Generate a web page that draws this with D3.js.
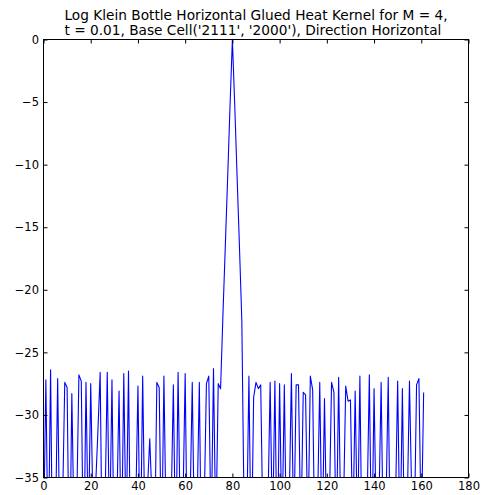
<!DOCTYPE html>
<html lang="en">
<head>
<meta charset="UTF-8">
<title>Log Klein Bottle heat kernel</title>
<script src="https://d3js.org/d3.v7.min.js"></script>
<style>
  body { margin: 0; background: #fff; }
  svg text { font-family: "DejaVu Sans", sans-serif; fill: #000; }
</style>
</head>
<body>
<svg id="chart"></svg>
<script>
// chart data
const titleLines = [
  "Log Klein Bottle Horizontal Glued Heat Kernel for M = 4,",
  "t = 0.01, Base Cell('2111', '2000'), Direction Horizontal"
];
const xTicks = [0, 20, 40, 60, 80, 100, 120, 140, 160, 180];
const yTicks = [0, -5, -10, -15, -20, -25, -30, -35];
const xDomain = [0, 180];
const yDomain = [-35, 0];

// log kernel value at each cell index 0..161 (values below -35 are clipped)
const logKernel = [
  -40, -27.2, -42, -26.4, -45, -40, -27.1, -42, -38, -27.4,
  -27.8, -44, -28.3, -40, -38, -26.8, -27.3, -43, -27.4, -40,
  -27.5, -38, -36, -31.5, -26.6, -44, -38, -26.6, -40, -27.2,
  -43, -38, -28.1, -42, -26.7, -40, -26.5, -44, -40, -38,
  -27.7, -42, -26.9, -40, -36, -31.9, -37, -42, -27.4, -27.8,
  -42, -26.9, -40, -44, -38, -27.6, -42, -26.6, -40, -38,
  -26.7, -43, -38, -27.4, -41, -38, -27.4, -44, -38, -27.5,
  -26.9, -40, -26.3, -40, -27.5, -27.9, -22, -16.5, -11, -5.3,
  0, -5.3, -11, -16.6, -22.5, -38.5, -40, -26.9, -42, -28.6,
  -27.4, -27.9, -27.6, -40, -44, -38, -27.4, -40, -27.3, -42,
  -27.5, -40, -27.6, -42, -38, -26.7, -40, -27.6, -27.6, -40,
  -28.2, -28.4, -40, -26.9, -28, -42, -38, -27.4, -41, -28.7,
  -40, -38, -27.4, -28.2, -41, -27.0, -40, -38, -27.7, -28.9,
  -28.8, -40, -28.1, -40, -26.9, -43, -40, -38, -26.8, -42,
  -27.9, -40, -38, -27.4, -42, -38, -27.0, -43, -40, -38,
  -27.3, -41, -27.9, -42, -38, -27.3, -37, -40, -27.6, -27.1,
  -40, -28.2
];

const width = 486, height = 495;
const margin = {top: 39.5, right: 17.5, bottom: 17.5, left: 43.5};
const plotW = width - margin.left - margin.right;
const plotH = height - margin.top - margin.bottom;

const svg = d3.select('#chart')
  .attr('width', width)
  .attr('height', height);

const x = d3.scaleLinear().domain(xDomain).range([0, plotW]);
const y = d3.scaleLinear().domain(yDomain).range([plotH, 0]);

const g = svg.append('g')
  .attr('transform', `translate(${margin.left},${margin.top})`);

g.append('clipPath').attr('id', 'plot-clip')
  .append('rect')
  .attr('width', plotW)
  .attr('height', plotH);

// the kernel line
const line = d3.line()
  .x((d, i) => x(i))
  .y(d => y(d));

g.append('path')
  .datum(logKernel)
  .attr('clip-path', 'url(#plot-clip)')
  .attr('fill', 'none')
  .attr('stroke', '#0000ff')
  .attr('stroke-width', 1.1)
  .attr('stroke-linejoin', 'round')
  .attr('d', line);

// ticks point inward on all four sides
const fmt = d3.format('d');
const tickLen = 4;

function styleAxis(sel) {
  sel.select('.domain').remove();
  sel.selectAll('.tick line').attr('stroke', '#000');
  sel.selectAll('.tick text').style('font-size', '11.5px');
}

g.append('g')
  .attr('transform', `translate(0,${plotH})`)
  .call(d3.axisBottom(x).tickValues(xTicks).tickFormat(fmt)
    .tickSizeInner(-tickLen).tickSizeOuter(0).tickPadding(4))
  .call(styleAxis);

g.append('g')
  .call(d3.axisTop(x).tickValues(xTicks).tickFormat('')
    .tickSizeInner(-tickLen).tickSizeOuter(0))
  .call(styleAxis);

g.append('g')
  .call(d3.axisLeft(y).tickValues(yTicks).tickFormat(fmt)
    .tickSizeInner(-tickLen).tickSizeOuter(0).tickPadding(4.5))
  .call(styleAxis);

g.append('g')
  .attr('transform', `translate(${plotW},0)`)
  .call(d3.axisRight(y).tickValues(yTicks).tickFormat('')
    .tickSizeInner(-tickLen).tickSizeOuter(0))
  .call(styleAxis);

// frame
g.append('rect')
  .attr('width', plotW)
  .attr('height', plotH)
  .attr('fill', 'none')
  .attr('stroke', '#000')
  .attr('stroke-width', 1);

// title: two lines, left aligned inside a block centred over the axes
const title = svg.append('text')
  .style('font-size', '13.7px');
title.selectAll('tspan')
  .data(titleLines)
  .enter()
  .append('tspan')
  .attr('y', (d, i) => 19.5 + i * 15)
  .text(d => d);
const widest = d3.max(title.selectAll('tspan').nodes(), n => n.getComputedTextLength());
title.selectAll('tspan').attr('x', margin.left + plotW / 2 - widest / 2);
</script>
</body>
</html>
